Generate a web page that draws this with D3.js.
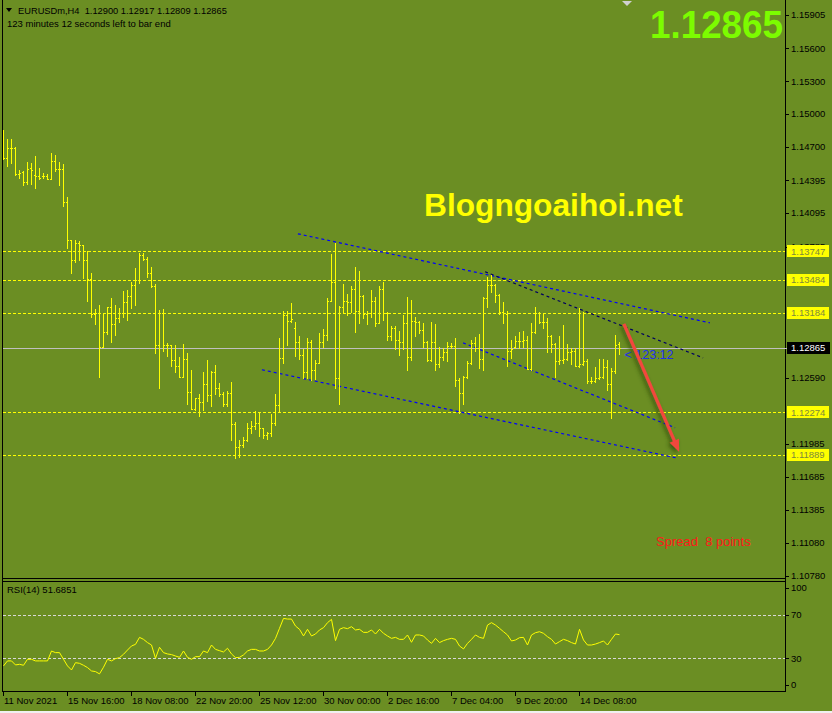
<!DOCTYPE html>
<html>
<head>
<meta charset="utf-8">
<script src="https://cdn.jsdelivr.net/npm/d3@7"></script>
<style>
  html, body { margin: 0; padding: 0; background: #6b8e23; }
  svg { display: block; font-family: "Liberation Sans", Arial, sans-serif; }
</style>
</head>
<body>
<svg id="chart" width="832" height="713"></svg>
<script>
"use strict";

// EURUSDm H4, barres depuis le 11 Nov 2021
var opens = [1.1481,1.1460,1.1469,1.1469,1.1445,1.1447,1.1438,1.1451,1.1444,1.1443,
  1.1443,1.1443,1.1441,1.1457,1.1450,1.1450,1.1420,1.1385,1.1367,1.1382,
  1.1380,1.1367,1.1349,1.1317,1.1318,1.1287,1.1301,1.1324,1.1308,1.1314,
  1.1318,1.1328,1.1334,1.1344,1.1348,1.1371,1.1368,1.1355,1.1343,1.1289,
  1.1318,1.1289,1.1289,1.1275,1.1270,1.1260,1.1276,1.1246,1.1231,1.1241,
  1.1237,1.1253,1.1243,1.1264,1.1250,1.1244,1.1235,1.1245,1.1217,1.1196,
  1.1198,1.1202,1.1213,1.1215,1.1218,1.1213,1.1207,1.1209,1.1218,1.1234,
  1.1277,1.1316,1.1311,1.1305,1.1292,1.1280,1.1264,1.1292,1.1266,1.1273,
  1.1292,1.1298,1.1329,1.1347,1.1259,1.1324,1.1329,1.1328,1.1340,1.1320,
  1.1334,1.1317,1.1318,1.1329,1.1309,1.1340,1.1318,1.1297,1.1305,1.1294,
  1.1292,1.1309,1.1278,1.1311,1.1310,1.1303,1.1292,1.1275,1.1292,1.1272,
  1.1278,1.1283,1.1288,1.1288,1.1257,1.1245,1.1260,1.1273,1.1291,1.1286,
  1.1276,1.1332,1.1344,1.1344,1.1335,1.1319,1.1317,1.1284,1.1287,1.1293,
  1.1293,1.1294,1.1267,1.1301,1.1318,1.1310,1.1310,1.1297,1.1290,1.1274,
  1.1275,1.1276,1.1283,1.1284,1.1270,1.1272,1.1274,1.1256,1.1256,1.1259,
  1.1260,1.1269,1.1253,1.1265,1.12900]

var highs = [1.1485,1.1477,1.1477,1.1470,1.1449,1.1448,1.1456,1.1455,1.1462,1.1451,
  1.1446,1.1445,1.1464,1.1463,1.1456,1.1454,1.1424,1.1385,1.1385,1.1384,
  1.1380,1.1375,1.1355,1.1322,1.1326,1.1318,1.1324,1.1332,1.1326,1.1323,
  1.1338,1.1339,1.1347,1.1359,1.1373,1.1373,1.1369,1.1360,1.1345,1.1321,
  1.1322,1.1291,1.1289,1.1289,1.1278,1.1290,1.1282,1.1266,1.1241,1.1244,
  1.1264,1.1275,1.1265,1.1271,1.1254,1.1246,1.1247,1.1255,1.1219,1.1202,
  1.1205,1.1218,1.1220,1.1229,1.1228,1.1213,1.1210,1.1226,1.1244,1.1295,
  1.1320,1.1320,1.1327,1.1310,1.1297,1.1285,1.1295,1.1294,1.1275,1.1300,
  1.1304,1.1332,1.1372,1.1382,1.1325,1.1345,1.1336,1.1343,1.1360,1.1357,
  1.1335,1.1320,1.1339,1.1333,1.1343,1.1347,1.1319,1.1306,1.1306,1.1302,
  1.1316,1.1333,1.1330,1.1315,1.1311,1.1309,1.1293,1.1310,1.1308,1.1287,
  1.1286,1.1292,1.1291,1.1295,1.1259,1.1261,1.1274,1.1294,1.1296,1.1299,
  1.1333,1.1351,1.1353,1.1345,1.1336,1.1328,1.1320,1.1294,1.1297,1.1301,
  1.1302,1.1297,1.1309,1.1324,1.1319,1.1318,1.1314,1.1298,1.1291,1.1297,
  1.1307,1.1290,1.1286,1.1286,1.1323,1.1319,1.1276,1.1260,1.1269,1.1276,
  1.1276,1.1275,1.1268,1.1298,1.12917]

var lows = [1.1459,1.1453,1.1455,1.1444,1.1442,1.1435,1.1436,1.1436,1.1432,1.1441,
  1.1442,1.1441,1.1441,1.1448,1.1435,1.1416,1.1378,1.1355,1.1365,1.1367,
  1.1350,1.1329,1.1315,1.1308,1.1260,1.1287,1.1299,1.1292,1.1298,1.1310,
  1.1315,1.1312,1.1323,1.1326,1.1346,1.1367,1.1351,1.1342,1.1282,1.1250,
  1.1284,1.1279,1.1270,1.1264,1.1260,1.1260,1.1235,1.1231,1.1230,1.1224,
  1.1230,1.1238,1.1233,1.1244,1.1242,1.1233,1.1233,1.1202,1.1186,1.1187,
  1.1196,1.1201,1.1209,1.1212,1.1206,1.1204,1.1203,1.1206,1.1216,1.1229,
  1.1273,1.1289,1.1310,1.1279,1.1276,1.1259,1.1259,1.1257,1.1258,1.1273,
  1.1287,1.1294,1.1329,1.1250,1.1235,1.1318,1.1316,1.1319,1.1301,1.1309,
  1.1314,1.1308,1.1315,1.1306,1.1309,1.1312,1.1294,1.1294,1.1285,1.1280,
  1.1285,1.1266,1.1275,1.1297,1.1300,1.1287,1.1274,1.1274,1.1266,1.1269,
  1.1275,1.1274,1.1286,1.1252,1.1227,1.1235,1.1259,1.1272,1.1284,1.1268,
  1.1266,1.1324,1.1337,1.1328,1.1317,1.1309,1.1270,1.1277,1.1286,1.1286,
  1.1287,1.1267,1.1266,1.1300,1.1309,1.1305,1.1283,1.1283,1.1260,1.1272,
  1.1273,1.1275,1.1272,1.1270,1.1269,1.1271,1.1254,1.1254,1.1255,1.1258,
  1.1259,1.1248,1.1222,1.1263,1.12809]

var closes = [1.1460,1.1469,1.1469,1.1445,1.1446,1.1438,1.1450,1.1449,1.1443,1.1442,
  1.1443,1.1441,1.1457,1.1450,1.1450,1.1420,1.1385,1.1367,1.1382,1.1380,
  1.1367,1.1349,1.1317,1.1318,1.1287,1.1301,1.1324,1.1308,1.1314,1.1318,
  1.1328,1.1334,1.1344,1.1348,1.1371,1.1368,1.1355,1.1343,1.1289,1.1318,
  1.1289,1.1289,1.1275,1.1270,1.1260,1.1276,1.1246,1.1231,1.1241,1.1237,
  1.1253,1.1243,1.1264,1.1250,1.1244,1.1235,1.1245,1.1217,1.1196,1.1198,
  1.1202,1.1213,1.1215,1.1218,1.1213,1.1207,1.1209,1.1218,1.1234,1.1277,
  1.1316,1.1311,1.1313,1.1292,1.1280,1.1264,1.1292,1.1266,1.1273,1.1292,
  1.1298,1.1329,1.1347,1.1259,1.1324,1.1329,1.1328,1.1340,1.1320,1.1334,
  1.1317,1.1318,1.1329,1.1309,1.1340,1.1318,1.1297,1.1305,1.1294,1.1292,
  1.1309,1.1278,1.1311,1.1310,1.1303,1.1292,1.1275,1.1292,1.1272,1.1278,
  1.1283,1.1288,1.1288,1.1257,1.1245,1.1260,1.1273,1.1291,1.1286,1.1276,
  1.1332,1.1344,1.1344,1.1335,1.1319,1.1318,1.1284,1.1285,1.1293,1.1293,
  1.1294,1.1267,1.1301,1.1318,1.1310,1.1310,1.1297,1.1290,1.1274,1.1275,
  1.1276,1.1283,1.1284,1.1270,1.1272,1.1274,1.1256,1.1256,1.1259,1.1260,
  1.1269,1.1253,1.1265,1.1289,1.12865]

var rsi = [23.0,27.6,27.6,23.9,24.5,23.6,29.1,29.1,27.6,27.6,
  27.6,27.6,36.7,35.2,35.2,29.1,23.0,19.3,26.0,25.4,
  23.6,21.5,18.4,17.8,15.7,21.8,29.1,27.6,29.7,30.6,
  33.7,37.6,41.3,42.8,49.2,47.4,44.4,42.2,30.0,40.1,
  35.2,34.0,33.4,32.1,30.9,36.7,30.9,29.1,31.5,31.5,
  36.7,35.2,42.2,38.2,37.0,35.8,39.2,34.0,30.6,30.9,
  33.1,36.7,38.2,38.2,36.7,36.7,38.2,42.2,48.3,57.5,
  66.6,66.0,66.0,59.6,56.6,50.5,56.6,50.5,52.3,56.0,
  58.1,62.7,65.7,46.2,56.6,58.1,57.2,59.0,56.0,56.6,
  53.8,53.8,56.0,52.3,56.6,52.9,50.5,48.3,49.2,47.4,
  47.4,51.4,44.7,51.4,51.4,50.5,46.8,43.7,48.3,44.4,
  46.2,47.4,48.3,47.4,41.3,38.6,43.7,47.4,51.4,49.2,
  48.3,60.5,62.7,60.5,57.5,54.4,51.4,45.9,46.8,48.9,
  49.2,42.2,51.4,53.5,54.4,52.9,49.8,47.4,43.1,45.3,
  47.4,46.2,44.4,43.1,56.6,46.8,42.2,42.2,43.1,44.4,
  45.9,42.2,47.4,52.3,51.6851]

// étiquettes de l'axe du temps : une toutes les 16 barres
var dateLabels = ["11 Nov 2021", "15 Nov 16:00", "18 Nov 08:00", "22 Nov 20:00", "25 Nov 12:00",
  "30 Nov 00:00", "2 Dec 16:00", "7 Dec 04:00", "9 Dec 20:00", "14 Dec 08:00"]
var dateStep = 16

var priceTicks = [1.15905, 1.15600, 1.15300, 1.15000, 1.14700, 1.14395, 1.14095, 1.13785,
  1.12590, 1.11985, 1.11685, 1.11385, 1.11080, 1.10780]
var levels = [1.13747, 1.13484, 1.13184, 1.12274, 1.11889]
var bid = 1.12865
var rsiTicks = [100, 70, 30, 0]
var rsiLevels = [70, 30]

// lignes de tendance : [barre début, prix début, barre fin, prix fin]
var channelLines = [
  [73.6, 1.13906, 176.6, 1.13093],
  [120.4, 1.13559, 174.9, 1.12773],
  [114.9, 1.12910, 167.9, 1.12134],
  [64.6, 1.12664, 168.1, 1.11860]
]
var arrowLine = [155.1, 1.13084, 168.9, 1.11915]

var svg = d3.select("#chart")
var W = 832, H = 713
var left = 3, right = 785, mainBottom = 578, rsiTop = 581, rsiBottom = 691

var x = d3.scaleLinear().domain([0, opens.length - 1]).range([3.5, 3.5 + 4 * (opens.length - 1)])
var y = d3.scaleLinear().domain([1.10780, 1.15905]).range([576, 15])
var yr = d3.scaleLinear().domain([0, 100]).range([691, 582])
var px = function(v) { return Math.round(v) + 0.5 }

var defs = svg.append("defs")
var shadow = defs.append("filter").attr("id", "shadow")
  .attr("x", "-50%").attr("y", "-50%").attr("width", "200%").attr("height", "200%")
shadow.append("feDropShadow").attr("dx", -2).attr("dy", 2).attr("stdDeviation", 2)
  .attr("flood-color", "#2c4408").attr("flood-opacity", 0.8)

svg.append("rect").attr("width", W).attr("height", H).attr("fill", "#6b8e23")

// niveaux horizontaux
svg.append("g").selectAll("line").data(levels).enter().append("line")
  .attr("x1", left).attr("x2", right)
  .attr("y1", function(d) { return px(y(d)) }).attr("y2", function(d) { return px(y(d)) })
  .attr("stroke", "#ffff00").attr("stroke-dasharray", "3,2")
  .attr("shape-rendering", "crispEdges")

svg.append("line")
  .attr("x1", left).attr("x2", right).attr("y1", px(y(bid))).attr("y2", px(y(bid)))
  .attr("stroke", "#c0c0c0").attr("shape-rendering", "crispEdges")

// canal
var lineColors = ["#0000ff", "#000060", "#0000ff", "#0000ff"]
svg.append("g").selectAll("line").data(channelLines).enter().append("line")
  .attr("x1", function(d) { return x(d[0]) }).attr("y1", function(d) { return y(d[1]) })
  .attr("x2", function(d) { return x(d[2]) }).attr("y2", function(d) { return y(d[3]) })
  .attr("stroke", function(d, i) { return lineColors[i] })
  .attr("stroke-width", 1.2).attr("stroke-dasharray", "3,3")

// barres OHLC
var bars = d3.range(opens.length).map(function(i) {
  return { i: i, o: opens[i], h: highs[i], l: lows[i], c: closes[i] }
})
var barG = svg.append("g").attr("fill", "#ffff00").attr("shape-rendering", "crispEdges")
barG.selectAll("rect.hl").data(bars).enter().append("rect")
  .attr("x", function(d) { return Math.floor(x(d.i)) })
  .attr("y", function(d) { return Math.round(y(d.h)) })
  .attr("width", 1)
  .attr("height", function(d) { return Math.max(1, Math.round(y(d.l)) - Math.round(y(d.h)) + 1) })
barG.selectAll("rect.o").data(bars).enter().append("rect")
  .attr("x", function(d) { return Math.floor(x(d.i)) - 1 })
  .attr("y", function(d) { return Math.round(y(d.o)) })
  .attr("width", 1).attr("height", 1)
barG.selectAll("rect.c").data(bars).enter().append("rect")
  .attr("x", function(d) { return Math.floor(x(d.i)) + 1 })
  .attr("y", function(d) { return Math.round(y(d.c)) })
  .attr("width", 1).attr("height", 1)

// textes du graphique
svg.append("text").attr("x", 424).attr("y", 216)
  .attr("font-size", 31.7).attr("font-weight", "bold").attr("fill", "#ffff00")
  .text("Blogngoaihoi.net")

svg.append("text").attr("x", 783).attr("y", 38).attr("text-anchor", "end")
  .attr("font-size", 38).attr("font-weight", "bold").attr("fill", "#7cfc00")
  .attr("textLength", 133).attr("lengthAdjust", "spacingAndGlyphs")
  .text(d3.format(".5f")(bid))

svg.append("path").attr("d", "M6,8 L12,8 L9,12 Z").attr("fill", "#000")
svg.append("text").attr("x", 18).attr("y", 13.5).attr("font-size", 9.3).attr("fill", "#000")
  .attr("xml:space", "preserve")
  .text("EURUSDm,H4  " + [opens, highs, lows, closes].map(function(a) {
    return d3.format(".5f")(a[a.length - 1]) }).join(" "))
svg.append("text").attr("x", 7).attr("y", 26.5).attr("font-size", 9.5).attr("fill", "#000")
  .text("123 minutes 12 seconds left to bar end")

svg.append("path").attr("d", "M622,1 L632,1 L627,6 Z").attr("fill", "#d0d0d0")

svg.append("text").attr("x", 656).attr("y", 546).attr("font-size", 13).attr("fill", "#ff1a1a")
  .attr("xml:space", "preserve").text("Spread  8 points")

var lastX = x(opens.length - 1)
svg.append("text").attr("x", lastX + 5).attr("y", y(bid) + 11)
  .attr("font-size", 12.5).attr("fill", "#2030f0").text("< 123:12")

// flèche
var ax1 = x(arrowLine[0]), ay1 = y(arrowLine[1]), ax2 = x(arrowLine[2]), ay2 = y(arrowLine[3])
var len = Math.hypot(ax2 - ax1, ay2 - ay1)
var ux = (ax2 - ax1) / len, uy = (ay2 - ay1) / len
var headL = 12, headW = 5
var arrow = svg.append("g").attr("filter", "url(#shadow)")
arrow.append("line").attr("x1", ax1).attr("y1", ay1)
  .attr("x2", ax2 - ux * headL * 0.8).attr("y2", ay2 - uy * headL * 0.8)
  .attr("stroke", "#f2473d").attr("stroke-width", 3.2)
arrow.append("path")
  .attr("d", "M" + ax2 + "," + ay2 +
    " L" + (ax2 - ux * headL - uy * headW) + "," + (ay2 - uy * headL + ux * headW) +
    " L" + (ax2 - ux * headL + uy * headW) + "," + (ay2 - uy * headL - ux * headW) + " Z")
  .attr("fill", "#f2473d")

// cadres
var frame = svg.append("g").attr("stroke", "#000").attr("shape-rendering", "crispEdges")
frame.append("line").attr("x1", 2.5).attr("x2", 2.5).attr("y1", 0).attr("y2", rsiBottom + 0.5)
frame.append("line").attr("x1", right + 0.5).attr("x2", right + 0.5).attr("y1", 0).attr("y2", rsiBottom + 0.5)
frame.append("line").attr("x1", 2).attr("x2", right + 1).attr("y1", mainBottom + 0.5).attr("y2", mainBottom + 0.5)
frame.append("line").attr("x1", 2).attr("x2", right + 1).attr("y1", rsiTop + 0.5).attr("y2", rsiTop + 0.5)
frame.append("line").attr("x1", 2).attr("x2", right + 1).attr("y1", rsiBottom + 0.5).attr("y2", rsiBottom + 0.5)

// axe des prix
var axisG = svg.append("g").attr("font-size", 9.5)
axisG.selectAll("line").data(priceTicks).enter().append("line")
  .attr("x1", right + 1).attr("x2", right + 4)
  .attr("y1", function(d) { return px(y(d)) }).attr("y2", function(d) { return px(y(d)) })
  .attr("stroke", "#000").attr("shape-rendering", "crispEdges")
axisG.selectAll("text").data(priceTicks).enter().append("text")
  .attr("x", right + 6).attr("y", function(d) { return y(d) }).attr("dy", "0.35em")
  .attr("fill", "#000").text(d3.format(".5f"))

var levelG = svg.append("g").attr("font-size", 9.5)
levelG.selectAll("line").data(levels).enter().append("line")
  .attr("x1", right - 2).attr("x2", right)
  .attr("y1", function(d) { return px(y(d)) }).attr("y2", function(d) { return px(y(d)) })
  .attr("stroke", "#ffff00").attr("shape-rendering", "crispEdges")
levelG.selectAll("rect").data(levels).enter().append("rect")
  .attr("x", right + 2).attr("width", 42)
  .attr("y", function(d) { return Math.round(y(d)) - 6 }).attr("height", 12)
  .attr("fill", "#ffff00")
levelG.selectAll("text").data(levels).enter().append("text")
  .attr("x", right + 6).attr("y", function(d) { return y(d) }).attr("dy", "0.35em")
  .attr("fill", "#7d8a3c").text(d3.format(".5f"))

svg.append("line").attr("x1", right - 6).attr("x2", right + 2)
  .attr("y1", px(y(bid))).attr("y2", px(y(bid))).attr("stroke", "#c0c0c0")
  .attr("shape-rendering", "crispEdges")
svg.append("rect").attr("x", right + 2).attr("width", 43)
  .attr("y", Math.round(y(bid)) - 6).attr("height", 12).attr("fill", "#000")
svg.append("text").attr("x", right + 6).attr("y", y(bid)).attr("dy", "0.35em")
  .attr("font-size", 9.5).attr("fill", "#fff").text(d3.format(".5f")(bid))

// panneau RSI
svg.append("g").selectAll("line").data(rsiLevels).enter().append("line")
  .attr("x1", left).attr("x2", right)
  .attr("y1", function(d) { return px(yr(d)) }).attr("y2", function(d) { return px(yr(d)) })
  .attr("stroke", "#d8d8d8").attr("stroke-dasharray", "3,2")
  .attr("shape-rendering", "crispEdges")

var rsiLine = d3.line()
  .x(function(d, i) { return x(i) })
  .y(function(d) { return yr(d) })
svg.append("path").datum(rsi).attr("d", rsiLine)
  .attr("fill", "none").attr("stroke", "#ffff00").attr("stroke-width", 1)

svg.append("text").attr("x", 7).attr("y", 593).attr("font-size", 9.5).attr("fill", "#000")
  .text("RSI(14) " + d3.format(".4f")(rsi[rsi.length - 1]))

var rsiAxis = svg.append("g").attr("font-size", 9.5)
rsiAxis.selectAll("line").data(rsiTicks).enter().append("line")
  .attr("x1", right + 1).attr("x2", right + 4)
  .attr("y1", function(d) { return px(Math.min(685, Math.max(588, yr(d)))) })
  .attr("y2", function(d) { return px(Math.min(685, Math.max(588, yr(d)))) })
  .attr("stroke", "#000").attr("shape-rendering", "crispEdges")
rsiAxis.selectAll("text").data(rsiTicks).enter().append("text")
  .attr("x", right + 6)
  .attr("y", function(d) { return Math.min(685, Math.max(588, yr(d))) }).attr("dy", "0.35em")
  .attr("fill", "#000").text(function(d) { return d })

// axe du temps
var timeG = svg.append("g").attr("font-size", 9.5)
timeG.selectAll("line").data(dateLabels).enter().append("line")
  .attr("x1", function(d, i) { return Math.floor(x(i * dateStep)) + 0.5 })
  .attr("x2", function(d, i) { return Math.floor(x(i * dateStep)) + 0.5 })
  .attr("y1", rsiBottom + 1).attr("y2", rsiBottom + 5)
  .attr("stroke", "#000").attr("shape-rendering", "crispEdges")
timeG.selectAll("text").data(dateLabels).enter().append("text")
  .attr("x", function(d, i) { return Math.floor(x(i * dateStep)) + 1 })
  .attr("y", 704).attr("fill", "#000")
  .text(function(d) { return d })

// bordure de la fenêtre
svg.append("rect").attr("x", 0).attr("y", 711).attr("width", W).attr("height", 2).attr("fill", "#f0f0f0")
</script>
</body>
</html>
